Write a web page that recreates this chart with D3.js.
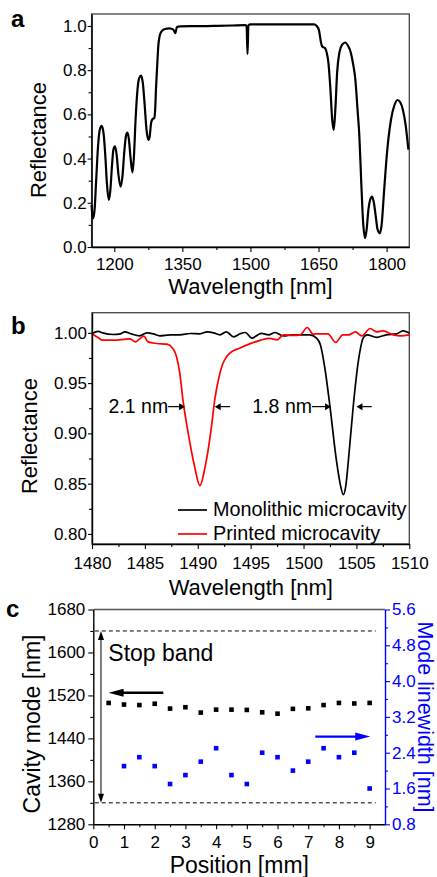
<!DOCTYPE html>
<html>
<head>
<meta charset="utf-8">
<script src="https://cdn.jsdelivr.net/npm/d3@7"></script>
<style>
body { margin: 0; background: #fff; }
svg { display: block; font-family: "Liberation Sans", Arial, sans-serif; }
</style>
</head>
<body>
<svg id="chart" width="437" height="877"></svg>
<script>
// panel a: broadband reflectance spectrum
const specWavelength = [1150, 1152, 1154, 1157, 1160, 1164, 1168, 1172, 1176, 1180, 1184, 1188, 1191, 1195, 1198, 1201.5,
    1205, 1209, 1214, 1218, 1222, 1226, 1229, 1232, 1236, 1240, 1243, 1247, 1251, 1255, 1259, 1263, 1267, 1271, 1275,
    1278, 1281, 1284, 1288, 1290, 1292, 1294.5, 1297, 1300, 1304, 1310, 1322, 1330, 1334.5, 1338, 1345, 1380, 1420,
    1460, 1488, 1491.5, 1493.5, 1495.5, 1500, 1550, 1600, 1640, 1646, 1651, 1655, 1658, 1664, 1668, 1672, 1676, 1680,
    1683.5, 1687, 1691, 1696, 1702, 1709, 1715, 1721, 1726, 1731, 1736, 1740, 1744, 1748, 1752.5, 1756, 1760, 1764,
    1768, 1772, 1776, 1780, 1785, 1789, 1794, 1799, 1804, 1810, 1817, 1824, 1830, 1836, 1842, 1848]
const specReflectance = [0.19, 0.14, 0.13, 0.18, 0.30, 0.45, 0.53, 0.548, 0.52, 0.42, 0.28, 0.213, 0.25, 0.37, 0.44, 0.455,
    0.42, 0.33, 0.273, 0.32, 0.43, 0.505, 0.518, 0.49, 0.40, 0.338, 0.40, 0.58, 0.71, 0.765, 0.775, 0.74, 0.64, 0.53, 0.485,
    0.50, 0.56, 0.578, 0.583, 0.62, 0.72, 0.82, 0.91, 0.955, 0.975, 0.985, 0.989, 0.983, 0.967, 0.995, 0.998, 0.999, 1.0,
    1.002, 1.004, 1.0, 0.873, 1.003, 1.007, 1.007, 1.007, 1.007, 1.0, 0.98, 0.93, 0.907, 0.9, 0.88, 0.83, 0.72, 0.58,
    0.53, 0.62, 0.79, 0.88, 0.915, 0.925, 0.91, 0.88, 0.83, 0.76, 0.62, 0.50, 0.30, 0.12, 0.04, 0.08, 0.17, 0.215,
    0.228, 0.20, 0.14, 0.08, 0.062, 0.10, 0.24, 0.38, 0.49, 0.58, 0.64, 0.665, 0.655, 0.62, 0.55, 0.44]

// panel b: cavity modes
const monoWavelength = [1480, 1480.6, 1481, 1482, 1482.7, 1483.1, 1483.7, 1484.5, 1485.2, 1485.8, 1486.4, 1487.4, 1488.3,
    1489.3, 1490.2, 1490.9, 1491.5, 1492.1, 1492.7, 1493.4, 1494, 1494.5, 1495.1, 1496, 1496.7, 1497.3, 1498.1, 1499,
    1499.7, 1500.6, 1501.2, 1501.6, 1502, 1502.5, 1503.1, 1503.5, 1503.76, 1504, 1504.25, 1504.7, 1505.2, 1505.65, 1506,
    1506.9, 1507.8, 1508.8, 1509.4, 1510]
const monoReflectance = [0.9993, 1.0015, 1.0, 0.9983, 0.999, 1.001, 0.999, 0.997, 1.0, 0.999, 0.997, 0.998, 0.998,
    0.9993, 0.999, 1.001, 1.0, 0.998, 1.001, 0.996, 0.999, 1.0003, 0.9947, 0.9994, 0.998, 1.0003, 0.997, 0.998,
    0.998, 0.998, 0.995, 0.988, 0.966, 0.9266, 0.874, 0.848, 0.839, 0.848, 0.874, 0.927, 0.973, 0.995, 0.998,
    0.9955, 0.998, 0.999, 1.002, 0.9997]
const printWavelength = [1480, 1480.6, 1481, 1482, 1483, 1483.6, 1484.1, 1484.5, 1484.9, 1485.3, 1486.1, 1487.1, 1487.6,
    1488, 1488.3, 1488.6, 1489.1, 1489.7, 1490.2, 1490.7, 1491.3, 1491.6, 1492.1, 1493, 1494, 1494.9, 1495.9, 1496.8,
    1497.5, 1498.1, 1499, 1499.7, 1500.35, 1500.9, 1501.6, 1502.3, 1503.05, 1503.7, 1504.3, 1504.9, 1505.5, 1506.3,
    1506.9, 1507.5, 1508.5, 1509.2, 1510]
const printReflectance = [0.999, 0.995, 0.9927, 0.9927, 0.9934, 0.994, 0.991, 0.994, 0.9967, 0.991, 0.9894, 0.9887, 0.985,
    0.976, 0.96, 0.933, 0.900, 0.867, 0.848, 0.867, 0.907, 0.933, 0.96, 0.9795, 0.985, 0.989, 0.9925, 0.9945,
    0.993, 0.998, 0.9975, 0.998, 1.0053, 0.9987, 0.999, 0.999, 0.9904, 0.998, 0.998, 1.001, 0.997, 1.0043,
    1.001, 1.002, 0.998, 0.997, 0.998]

// panel c: mode position and linewidth across the sample
const modePosition = [0.5, 1, 1.5, 2, 2.5, 3, 3.5, 4, 4.5, 5, 5.5, 6, 6.5, 7, 7.5, 8, 8.5, 9]
const cavityMode = [1506, 1503, 1502, 1504.5, 1495.5, 1498, 1488, 1493.5, 1493.5, 1493, 1488.5, 1486, 1495, 1496, 1502, 1506, 1505, 1506]
const widthPosition = [1, 1.5, 2, 2.5, 3, 3.5, 4, 4.5, 5, 5.5, 6, 6.5, 7, 7.5, 8, 8.5, 9]
const modeLinewidth = [2.1, 2.3, 2.1, 1.7, 1.9, 2.2, 2.5, 1.9, 1.7, 2.4, 2.3, 2.0, 2.2, 2.5, 2.3, 2.4, 1.6]
const stopBand = [1320, 1640]

// ticks
const aXTicks = [1200, 1350, 1500, 1650, 1800]
const aXMinor = [1275, 1425, 1575, 1725]
const aYTicks = [0, 0.2, 0.4, 0.6, 0.8, 1.0]
const aYMinor = [0.1, 0.3, 0.5, 0.7, 0.9]
const bXTicks = [1480, 1485, 1490, 1495, 1500, 1505, 1510]
const bXMinor = [1482.5, 1487.5, 1492.5, 1497.5, 1502.5, 1507.5]
const bYTicks = [0.80, 0.85, 0.90, 0.95, 1.00]
const bYMinor = [0.825, 0.875, 0.925, 0.975]
const cXTicks = [0, 1, 2, 3, 4, 5, 6, 7, 8, 9]
const cXMinor = [0.5, 1.5, 2.5, 3.5, 4.5, 5.5, 6.5, 7.5, 8.5]
const cYTicks = [1280, 1360, 1440, 1520, 1600, 1680]
const cYMinor = [1320, 1400, 1480, 1560, 1640]
const cRTicks = [0.8, 1.6, 2.4, 3.2, 4.0, 4.8, 5.6]
const cRMinor = [1.2, 2.0, 2.8, 3.6, 4.4, 5.2]

const BLUE = '#0000ff'
const RED = '#ff0000'
const FONT = '"Liberation Sans", Arial, sans-serif'

const svg = d3.select('#chart')

function axis(parent, orient, scale, at, major, minor, fmt, size, pad, color) {
    const make = { bottom: d3.axisBottom, left: d3.axisLeft, right: d3.axisRight }[orient]
    const g = parent.append('g')
        .attr('transform', orient === 'bottom' ? `translate(0,${at})` : `translate(${at},0)`)
    g.append('g')
        .call(make(scale).tickValues(minor).tickSize(3).tickFormat(''))
        .call(s => s.select('.domain').remove())
    const maj = g.append('g')
        .call(make(scale).tickValues(major).tickSize(size).tickSizeOuter(0).tickPadding(pad).tickFormat(fmt))
    g.selectAll('g').attr('font-family', FONT).attr('font-size', 17)
    g.selectAll('line').attr('stroke', color).attr('stroke-width', 1.1)
    maj.select('.domain').attr('stroke', color).attr('stroke-width', 1.4)
    g.selectAll('text').attr('fill', color)
    return g
}

function frame(x, y) {
    svg.append('rect')
        .attr('x', x.range()[0]).attr('y', y.range()[1])
        .attr('width', x.range()[1] - x.range()[0])
        .attr('height', y.range()[0] - y.range()[1])
        .attr('fill', 'none').attr('stroke', '#444').attr('stroke-width', 1.3)
}

function arrow(g, x1, y1, x2, y2, len, half, color, w) {
    const dx = x2 - x1, dy = y2 - y1, L = Math.hypot(dx, dy)
    const ux = dx / L, uy = dy / L
    const bx = x2 - ux * len, by = y2 - uy * len
    g.append('line')
        .attr('x1', x1).attr('y1', y1).attr('x2', bx + ux).attr('y2', by + uy)
        .attr('stroke', color).attr('stroke-width', w)
    g.append('path')
        .attr('d', `M${x2},${y2}L${bx - uy * half},${by + ux * half}L${bx + uy * half},${by - ux * half}Z`)
        .attr('fill', color)
}

function label(txt, x, y, size, opts = {}) {
    const t = svg.append('text')
        .attr('x', x).attr('y', y)
        .attr('font-size', size)
        .attr('text-anchor', opts.anchor || 'start')
        .attr('fill', opts.color || '#000')
        .text(txt)
    if (opts.bold) t.attr('font-weight', 'bold')
    if (opts.rotate) t.attr('transform', `rotate(${opts.rotate},${x},${y})`)
    return t
}

// ---------- panel a ----------
{
    const x = d3.scaleLinear().domain([1150, 1850]).range([91.6, 409.3])
    const y = d3.scaleLinear().domain([0, 1.054]).range([247, 14])
    frame(x, y)
    const data = specWavelength.map((w, i) => ({ w, r: specReflectance[i] }))
    svg.append('path')
        .datum(data)
        .attr('fill', 'none').attr('stroke', '#000').attr('stroke-width', 2.2)
        .attr('stroke-linejoin', 'round')
        .attr('d', d3.line().x(d => x(d.w)).y(d => y(d.r)).curve(d3.curveMonotoneX))
    axis(svg, 'bottom', x, 247, aXTicks, aXMinor, d3.format('d'), 5, 5.5, '#000')
    axis(svg, 'left', y, 91.6, aYTicks, aYMinor, d3.format('.1f'), 4, 1, '#000')
    label('Wavelength [nm]', 250.5, 293.5, 22, { anchor: 'middle' })
    label('Reflectance', 46, 140, 22, { anchor: 'middle', rotate: -90 })
    label('a', 11, 27, 24, { bold: true })
}

// ---------- panel b ----------
{
    const x = d3.scaleLinear().domain([1480, 1510]).range([92, 409.3])
    const y = d3.scaleLinear().domain([0.79, 1.02]).range([544, 312.7])
    frame(x, y)
    const line = d3.line().x(d => x(d.w)).y(d => y(d.r)).curve(d3.curveMonotoneX)
    const g = svg.append('g')
    g.append('path')
        .datum(monoWavelength.map((w, i) => ({ w, r: monoReflectance[i] })))
        .attr('fill', 'none').attr('stroke', '#000').attr('stroke-width', 1.7)
        .attr('d', line)
    g.append('path')
        .datum(printWavelength.map((w, i) => ({ w, r: printReflectance[i] })))
        .attr('fill', 'none').attr('stroke', RED).attr('stroke-width', 1.7)
        .attr('d', line)

    // FWHM annotations
    const yh = y(0.9266)
    arrow(g, x(1487.2), yh, x(1488.8), yh, 6, 3.5, '#000', 1.2)
    arrow(g, x(1493.05), yh, x(1491.6), yh, 6, 3.5, '#000', 1.2)
    arrow(g, x(1500.8), yh, x(1502.6), yh, 6, 3.5, '#000', 1.2)
    arrow(g, x(1506.45), yh, x(1505.0), yh, 6, 3.5, '#000', 1.2)
    label('2.1 nm', x(1487.2), yh + 6.5, 19.5, { anchor: 'end' })
    label('1.8 nm', x(1500.8), yh + 6.5, 19.5, { anchor: 'end' })

    // legend
    const lg = svg.append('g')
    lg.append('line').attr('x1', 178).attr('x2', 207).attr('y1', 510).attr('y2', 510)
        .attr('stroke', '#000').attr('stroke-width', 1.7)
    lg.append('line').attr('x1', 178).attr('x2', 207).attr('y1', 534).attr('y2', 534)
        .attr('stroke', RED).attr('stroke-width', 1.7)
    label('Monolithic microcavity', 213, 516, 19.8)
    label('Printed microcavity', 213, 540, 19.8)

    axis(svg, 'bottom', x, 544, bXTicks, bXMinor, d3.format('d'), 5, 8, '#000')
    axis(svg, 'left', y, 92, bYTicks, bYMinor, d3.format('.2f'), 4, 1, '#000')
    label('Wavelength [nm]', 250.8, 595, 22, { anchor: 'middle' })
    label('Reflectance', 37, 436, 22, { anchor: 'middle', rotate: -90 })
    label('b', 11, 334, 24, { bold: true })
}

// ---------- panel c ----------
{
    const x = d3.scaleLinear().domain([0, 9.5]).range([93.3, 385])
    const yL = d3.scaleLinear().domain([1280, 1680]).range([824.3, 609.5])
    const yR = d3.scaleLinear().domain([0.8, 5.6]).range([824.3, 609.5])
    svg.append('line').attr('x1', 93.3).attr('x2', 385).attr('y1', 609.5).attr('y2', 609.5)
        .attr('stroke', '#555').attr('stroke-width', 1.3)

    const g = svg.append('g')
    g.selectAll('line.band')
        .data(stopBand)
        .join('line')
        .attr('class', 'band')
        .attr('x1', x(0.05)).attr('x2', x(9.2))
        .attr('y1', d => yL(d)).attr('y2', d => yL(d))
        .attr('stroke', '#000').attr('stroke-width', 1).attr('stroke-dasharray', '4,3')

    const mid = (yL(stopBand[0]) + yL(stopBand[1])) / 2
    arrow(g, x(0.25), mid, x(0.25), yL(stopBand[1]), 9, 3, '#000', 1)
    arrow(g, x(0.25), mid, x(0.25), yL(stopBand[0]), 9, 3, '#000', 1)
    label('Stop band', x(0.49), yL(1583.6), 23)

    arrow(g, x(2.28), yL(1525), x(0.5), yL(1525), 15, 4, '#000', 2.3)
    arrow(g, x(7.23), yR(2.76), x(9.02), yR(2.76), 15, 4, BLUE, 2.3)

    const s = 4.6
    g.selectAll('rect.mode')
        .data(modePosition.map((p, i) => ({ p, v: cavityMode[i] })))
        .join('rect')
        .attr('class', 'mode')
        .attr('x', d => x(d.p) - s / 2).attr('y', d => yL(d.v) - s / 2)
        .attr('width', s).attr('height', s).attr('fill', '#000')
    g.selectAll('rect.lw')
        .data(widthPosition.map((p, i) => ({ p, v: modeLinewidth[i] })))
        .join('rect')
        .attr('class', 'lw')
        .attr('x', d => x(d.p) - s / 2).attr('y', d => yR(d.v) - s / 2)
        .attr('width', s).attr('height', s).attr('fill', BLUE)

    axis(svg, 'bottom', x, 824.3, cXTicks, cXMinor, d3.format('d'), 5, 7, '#000')
    axis(svg, 'left', yL, 93.3, cYTicks, cYMinor, d3.format('d'), 5, 3, '#000')
    axis(svg, 'right', yR, 385, cRTicks, cRMinor, d3.format('.1f'), 5, 2, BLUE)
    label('Position [mm]', 239.3, 873, 23, { anchor: 'middle' })
    label('Cavity mode [nm]', 40, 724, 23, { anchor: 'middle', rotate: -90 })
    label('Mode linewidth [nm]', 418, 717, 21.5, { anchor: 'middle', rotate: 90, color: BLUE })
    label('c', 6, 617, 24, { bold: true })
}
</script>
</body>
</html>
